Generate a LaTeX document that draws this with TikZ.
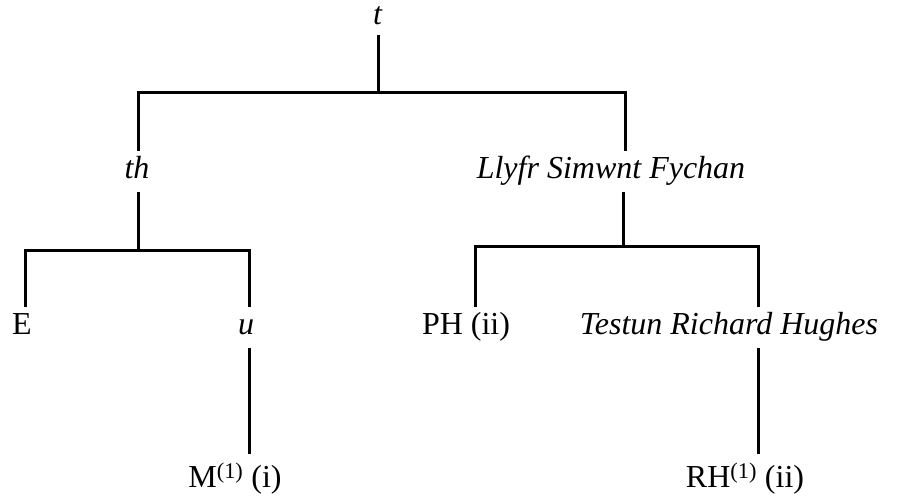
\documentclass[tikz,border=0pt]{standalone}
\usepackage{fontspec}
\setmainfont{Liberation Serif}
\begin{document}
\begin{tikzpicture}[
  x=1pt,y=-1pt,
  every node/.style={font=\fontsize{32}{38}\selectfont},
  lbl/.style={anchor=base,inner xsep=0pt,inner ysep=6pt,text height=22pt,text depth=7pt},
  leaf/.style={lbl,inner ysep=12pt},
  edge/.style={line width=3pt}
]
\useasboundingbox (0,0) rectangle (898,502);
% labels
\node[lbl,inner ysep=3pt] (t) at (378,25) {\textit{t}};
\node[lbl] (th) at (137,179) {\textit{th}};
\node[lbl] (llyfr) at (611,179) {\textit{Llyfr Simwnt Fychan}};
\node[lbl] (e) at (22,335) {E};
\node[lbl] (u) at (246,335) {\textit{u}};
\node[lbl] (ph) at (466,335) {PH (ii)};
\node[lbl] (testun) at (729,335) {\textit{Testun Richard Hughes}};
\node[leaf] (m) at (235,488) {M\textsuperscript{(1)} (i)};
\node[leaf] (rh) at (745,488) {RH\textsuperscript{(1)} (ii)};
% junctions on the bars
\coordinate (jt) at (378,93);
\coordinate (jl) at (138,93);
\coordinate (jr) at (625,93);
\coordinate (kth) at (138,251);
\coordinate (ke) at (25,251);
\coordinate (ku) at (249,251);
\coordinate (kll) at (623,247);
\coordinate (kph) at (475,247);
\coordinate (kts) at (758,247);
% lines
\draw[edge] (t.south -| jt) -- (jt);
\draw[edge] (th.north -| jl) |- (jr) -- (llyfr.north -| jr);
\draw[edge] (th.south -| kth) -- (kth);
\draw[edge] (e.north -| ke) |- (ku) -- (u.north -| ku);
\draw[edge] (u.south -| ku) -- (m.north -| ku);
\draw[edge] (llyfr.south -| kll) -- (kll);
\draw[edge] (ph.north -| kph) |- (kts) -- (testun.north -| kts);
\draw[edge] (testun.south -| kts) -- (rh.north -| kts);
\end{tikzpicture}
\end{document}
